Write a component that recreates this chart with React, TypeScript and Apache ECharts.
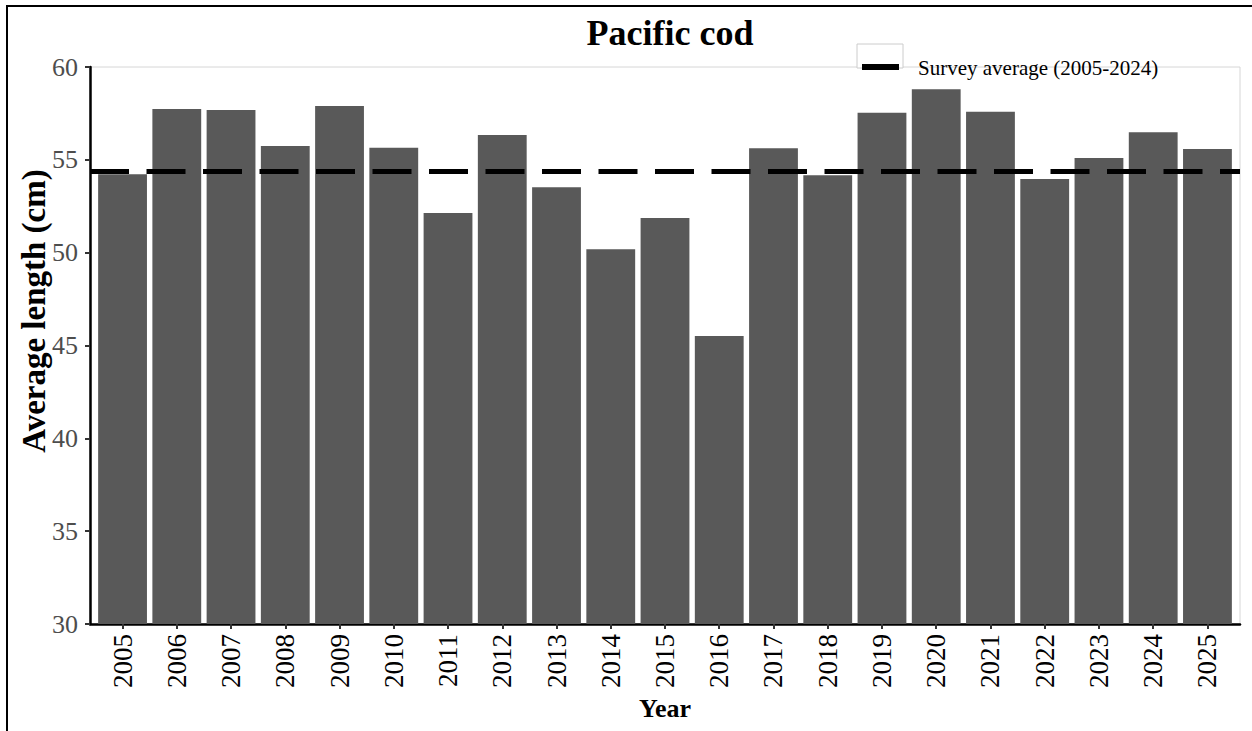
import React, { useEffect, useRef } from "react";
import * as echarts from "echarts";

const years = [
  "2005", "2006", "2007", "2008", "2009", "2010", "2011", "2012", "2013", "2014", "2015",
  "2016", "2017", "2018", "2019", "2020", "2021", "2022", "2023", "2024", "2025",
];
const avgLength = [
  54.22, 57.74, 57.68, 55.74, 57.9, 55.65, 52.14, 56.34, 53.52, 50.18, 51.87,
  45.51, 55.62, 54.17, 57.54, 58.8, 57.59, 53.97, 55.1, 56.48, 55.58,
];
const surveyAverage = 54.37;
const yTicks = { min: 30, max: 60, step: 5 };
const titleText = "Pacific cod";
const legendText = "Survey average (2005-2024)";
const xTitle = "Year";
const yTitle = "Average length (cm)";

const FONT = "'Liberation Serif', 'Times New Roman', Times, serif";

export default function App() {
  const ref = useRef<HTMLDivElement>(null);
  useEffect(() => {
    if (!ref.current) return;
    const chart = echarts.init(ref.current, null, { renderer: "svg" });
    const positions = years.map((_, i) => i + 1);
    chart.setOption({
      animation: false,
      textStyle: { fontFamily: FONT },
      title: {
        text: titleText,
        left: 665,
        top: 10,
        textAlign: "center",
        textStyle: { fontFamily: FONT, fontSize: 36, fontWeight: "bold", color: "#000" },
      },
      grid: {
        left: 90,
        right: 12,
        top: 67,
        bottom: 107,
        show: true,
        borderColor: "#d6d6d6",
        borderWidth: 1,
        backgroundColor: "transparent",
      },
      xAxis: {
        type: "value",
        min: 0.4,
        max: 21.6,
        name: xTitle,
        nameLocation: "middle",
        nameGap: 67,
        nameTextStyle: { fontFamily: FONT, fontSize: 26, fontWeight: "bold", color: "#000" },
        axisLine: { show: true, onZero: false, lineStyle: { color: "#000", width: 2.5 } },
        axisTick: { show: true, length: 5, customValues: positions, lineStyle: { color: "#333", width: 2 } },
        axisLabel: {
          customValues: positions,
          rotate: 90,
          margin: 10,
          fontFamily: FONT,
          fontSize: 27,
          color: "#000",
          formatter: (v: number) => years[Math.round(v) - 1] ?? "",
        },
        splitLine: { show: false },
      },
      yAxis: {
        type: "value",
        min: yTicks.min,
        max: yTicks.max,
        interval: yTicks.step,
        axisLine: { show: true, lineStyle: { color: "#000", width: 2.5 } },
        axisTick: { show: true, length: 5, lineStyle: { color: "#333", width: 2 } },
        axisLabel: { margin: 12, fontFamily: FONT, fontSize: 26, color: "#4d4d4d" },
        splitLine: { show: false },
      },
      series: [
        {
          type: "bar",
          data: years.map((_, i) => [i + 1, avgLength[i]]),
          barWidth: "90%",
          itemStyle: { color: "#595959" },
          silent: true,
          markLine: {
            silent: true,
            symbol: "none",
            label: { show: false },
            lineStyle: { color: "#000", width: 5, type: [39, 17.5] },
            data: [{ yAxis: surveyAverage }],
          },
        },
      ],
      graphic: [
        { type: "line", shape: { x1: 6, y1: 6, x2: 1252, y2: 6 }, style: { stroke: "#000", lineWidth: 2 } },
        { type: "line", shape: { x1: 7, y1: 6, x2: 7, y2: 731 }, style: { stroke: "#000", lineWidth: 2 } },
        {
          type: "text",
          x: 34,
          y: 311,
          rotation: Math.PI / 2,
          style: {
            text: yTitle,
            fontFamily: FONT,
            fontSize: 33,
            fontWeight: "bold",
            fill: "#000",
            textAlign: "center",
            verticalAlign: "middle",
          },
        },
        {
          type: "rect",
          shape: { x: 857, y: 44, width: 46, height: 24 },
          style: { fill: "#fff", stroke: "#cccccc", lineWidth: 1 },
          z: 10,
        },
        {
          type: "line",
          shape: { x1: 862, y1: 67, x2: 899, y2: 67 },
          style: { stroke: "#000", lineWidth: 6 },
          z: 11,
        },
        {
          type: "text",
          x: 918,
          y: 68,
          style: {
            text: legendText,
            fontFamily: FONT,
            fontSize: 21,
            fill: "#000",
            verticalAlign: "middle",
            textAlign: "left",
          },
          z: 11,
        },
      ],
    });
    return () => chart.dispose();
  }, []);
  return (
    <div
      ref={ref}
      style={{ position: "absolute", left: 0, top: 0, width: 1252, height: 731, background: "#fff" }}
    />
  );
}
